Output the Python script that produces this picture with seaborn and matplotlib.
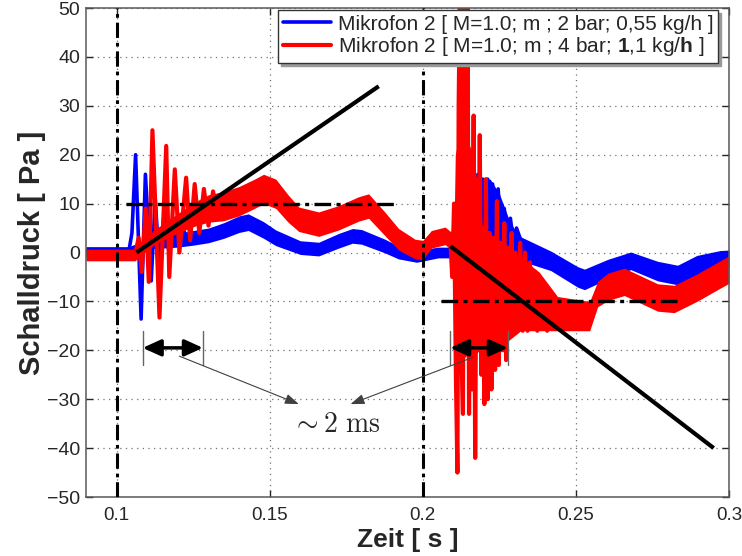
"""Schalldruck-Verlauf Mikrofon 2 bei 2 bar und 4 bar (Nachbau der Vorlage)"""
import matplotlib
matplotlib.use("Agg")
import numpy as np
import matplotlib.pyplot as plt
import seaborn as sns

# --- Messreihe 1: Mikrofon 2, 2 bar, 0,55 kg/h (blau) ---
blue_t = [0.0900, 0.1040, 0.1050, 0.1062, 0.1080, 0.1094, 0.1113, 0.1126, 0.1140, 0.1155,
          0.1170, 0.1185, 0.1200, 0.1215, 0.1235, 0.1300, 0.1350, 0.1400, 0.1430, 0.1480,
          0.1520, 0.1560, 0.1600, 0.1660, 0.1725, 0.1770, 0.1800, 0.1877, 0.1920, 0.1980,
          0.2050, 0.2090, 0.2100, 0.2105, 0.2110, 0.2116, 0.2122, 0.2128, 0.2134, 0.2140,
          0.2146, 0.2152, 0.2158, 0.2165, 0.2172, 0.2180, 0.2188, 0.2196, 0.2204, 0.2212,
          0.2220, 0.2228, 0.2236, 0.2246, 0.2256, 0.2266, 0.2276, 0.2286, 0.2296, 0.2306,
          0.2320, 0.2340, 0.2418, 0.2506, 0.2528, 0.2604, 0.2679, 0.2767, 0.2832, 0.2895,
          0.2971, 0.3000]
blue_v = [0.3, 0.3, 4.0, 20.0, -13.6, 16.0, -5.8, 11.0, -3.0, 8.0,
          0.5, 6.5, 1.5, 5.0, 2.5, 3.5, 4.5, 5.8, 6.2, 4.6,
          3.0, 2.0, 1.0, 0.7, 2.4, 3.4, 3.2, 1.3, 0.0, -0.8,
          0.0, 0.0, -3.0, 5.0, -10.0, 12.0, -15.0, 14.0, -18.0, 16.0,
          -14.0, 17.0, -25.0, 15.0, -12.0, 16.0, -8.0, 15.0, 3.0, 15.0,
          5.0, 14.0, 4.0, 13.0, 3.0, 9.0, 2.0, 7.0, 2.0, 5.0,
          2.5, 1.0, -1.7, -5.0, -5.5, -3.4, -1.7, -3.8, -4.6, -2.6,
          -1.4, -1.3]
# Rauschband (Mitte und halbe Breite)
blue_band_t = [0.090, 0.104, 0.112, 0.120, 0.125, 0.130, 0.135, 0.140, 0.143, 0.148,
               0.152, 0.156, 0.160, 0.166, 0.1725, 0.177, 0.180, 0.1877, 0.192, 0.198,
               0.205, 0.209, 0.2105, 0.215, 0.219, 0.222, 0.225, 0.228, 0.231, 0.2418,
               0.2506, 0.2528, 0.2604, 0.2679, 0.2767, 0.2832, 0.2895, 0.2971, 0.300]
blue_band_mid = [0.3, 0.3, 2.0, 2.5, 3.0, 3.5, 4.5, 5.8, 6.2, 4.6,
                 3.0, 2.0, 1.0, 0.7, 2.4, 3.4, 3.2, 1.3, 0.0, -0.8,
                 0.0, 0.0, 0.0, 2.0, 5.0, 5.0, 4.0, 2.0, 1.0, -1.7,
                 -5.0, -5.5, -3.4, -1.7, -3.8, -4.6, -2.6, -1.4, -1.3]
blue_band_half = [0.9, 0.9, 1.2, 1.4, 1.5, 1.5, 1.6, 1.7, 1.7, 1.7,
                  1.6, 1.5, 1.4, 1.4, 1.5, 1.5, 1.5, 1.4, 1.3, 1.2,
                  1.1, 1.1, 3.0, 8.0, 10.0, 10.0, 8.0, 5.0, 2.5, 2.0,
                  2.1, 2.1, 2.0, 1.8, 2.0, 2.0, 2.0, 1.8, 1.8]

# --- Messreihe 2: Mikrofon 2, 4 bar, 1,1 kg/h (rot) ---
red_t = [0.0900, 0.1060, 0.1072, 0.1082, 0.1095, 0.1105, 0.1117, 0.1140, 0.1162, 0.1172,
         0.1190, 0.1205, 0.1227, 0.1240, 0.1255, 0.1270, 0.1285, 0.1300, 0.1315, 0.1330,
         0.1345, 0.1360, 0.1375, 0.1400, 0.1450, 0.1480, 0.1520, 0.1560, 0.1595, 0.1660,
         0.1725, 0.1790, 0.1823, 0.1877, 0.1921, 0.1975, 0.2000, 0.2028, 0.2073, 0.2090,
         0.2096, 0.2102, 0.2108, 0.2113, 0.2117, 0.2121, 0.2126, 0.2131, 0.2136, 0.2141,
         0.2146, 0.2151, 0.2156, 0.2161, 0.2166, 0.2171, 0.2176, 0.2181, 0.2186, 0.2191,
         0.2196, 0.2201, 0.2206, 0.2212, 0.2218, 0.2224, 0.2230, 0.2236, 0.2242, 0.2248,
         0.2254, 0.2260, 0.2266, 0.2272, 0.2278, 0.2284, 0.2290, 0.2296, 0.2302, 0.2310,
         0.2318, 0.2326, 0.2334, 0.2342, 0.2350, 0.2358, 0.2366, 0.2374, 0.2382, 0.2390,
         0.2398, 0.2406, 0.2414, 0.2422, 0.2430, 0.2440, 0.2545, 0.2571, 0.2605, 0.2658,
         0.2767, 0.2821, 0.2895, 0.2971, 0.3000]
red_v = [-0.5, -0.5, 3.0, -4.0, 9.0, -6.0, 25.0, -13.3, 21.8, -5.0,
         17.0, 0.0, 15.3, 2.5, 14.0, 4.0, 13.0, 5.5, 12.5, 7.0,
         12.0, 8.5, 11.5, 10.5, 12.0, 13.0, 12.0, 9.0, 6.8, 5.8,
         7.1, 8.9, 9.5, 5.8, 2.7, 0.7, 0.5, 2.7, 3.4, 2.5,
         -5.0, 10.0, -25.0, -45.0, 30.0, 52.0, -20.0, -33.0, 52.0, -10.0,
         52.0, -33.0, 20.0, -28.0, 28.0, -42.0, 15.0, -20.0, 24.0, -25.0,
         5.0, -31.0, 15.0, -30.0, 4.0, -28.0, 3.0, -24.0, 10.5, -23.0,
         2.0, -20.0, 6.0, -22.0, 1.0, -16.0, 4.0, -15.0, 0.0, -15.0,
         2.0, -16.0, 0.0, -16.0, -2.0, -15.0, -4.0, -16.0, -6.0, -15.0,
         -7.0, -16.0, -8.0, -15.0, -10.0, -12.5, -13.0, -8.5, -7.0, -6.0,
         -9.2, -9.5, -7.2, -4.5, -3.5]
red_band_t = [0.090, 0.106, 0.112, 0.120, 0.126, 0.130, 0.135, 0.140, 0.145, 0.148,
              0.152, 0.156, 0.1595, 0.166, 0.1725, 0.179, 0.1823, 0.1877, 0.1921, 0.1975,
              0.200, 0.2028, 0.2073, 0.209, 0.2102, 0.2106, 0.2125, 0.2165, 0.2185, 0.2200,
              0.2250, 0.2280, 0.2320, 0.2380, 0.2440, 0.2545, 0.2571, 0.2605, 0.2658, 0.2767,
              0.2821, 0.2895, 0.2971, 0.300]
red_band_mid = [-0.5, -0.5, 3.0, 6.0, 8.0, 9.0, 9.5, 10.5, 12.0, 13.0,
                12.0, 9.0, 6.8, 5.8, 7.1, 8.9, 9.5, 5.8, 2.7, 0.7,
                0.5, 2.7, 3.4, 2.5, 2.0, 0.0, 2.0, 0.0, -5.0, -8.5,
                -9.0, -9.0, -8.5, -10.0, -12.5, -13.0, -8.5, -7.0, -6.0, -9.2,
                -9.5, -7.2, -4.5, -3.5]
red_band_half = [1.2, 1.2, 1.5, 2.0, 2.5, 2.8, 3.0, 3.0, 3.0, 3.0,
                 3.0, 2.8, 2.5, 2.5, 2.5, 2.5, 2.5, 2.4, 2.2, 2.0,
                 2.0, 1.8, 1.8, 1.8, 3.0, 20.0, 24.0, 20.0, 15.0, 11.5,
                 11.0, 9.0, 7.5, 6.0, 3.5, 3.0, 2.6, 2.8, 2.8, 2.8,
                 2.8, 2.8, 2.8, 2.8]

labels = ["Mikrofon 2 [ M=1.0; m ; 2 bar; 0,55 kg/h ]",
          r"Mikrofon 2 [ M=1.0; m ; 4 bar; $\mathbf{1}$,1 kg/$\mathbf{h}$ ]"]

# --- Hilfslinien und Markierungen ---
vline_x = [0.1, 0.2]
hline1_x, hline1_y = [0.1031, 0.1914], [10, 10]
hline2_x, hline2_y = [0.206, 0.284], [-10, -10]
diag1_x, diag1_y = [0.1065, 0.1856], [0.0, 34.0]
diag2_x, diag2_y = [0.209, 0.295], [1.3, -40.0]
span_x = [(0.1085, 0.1282), (0.2089, 0.2278)]
span_y = -19.5
span_bar = (-16.0, -23.0)
pointer_from = [(0.1205, -21.2), (0.2165, -21.4)]
pointer_to = [(0.1595, -31.0), (0.1764, -31.0)]
note_xy = (0.1716, -35.2)

x_ticks = [0.1, 0.15, 0.2, 0.25, 0.3]
x_tick_labels = ["0.1", "0.15", "0.2", "0.25", "0.3"]
y_ticks = list(range(-50, 51, 10))

sns.set_theme(style="ticks")
plt.rcParams["font.family"] = ["Liberation Sans", "DejaVu Sans"]
plt.rcParams["mathtext.fontset"] = "custom"
plt.rcParams["mathtext.rm"] = "Liberation Sans"
plt.rcParams["mathtext.bf"] = "Liberation Sans:bold"
plt.rcParams["axes.unicode_minus"] = True

fig = plt.figure(figsize=(7.42, 5.56), dpi=100)
ax = fig.add_axes([0.1159, 0.1061, 0.8666, 0.8795])
ax.set_axisbelow(True)

blue, red = "#0000ff", "#ff0000"
bm, bh = np.array(blue_band_mid), np.array(blue_band_half)
rm, rh = np.array(red_band_mid), np.array(red_band_half)

ax.fill_between(blue_band_t, bm - bh, bm + bh, color=blue, lw=0, zorder=2)
sns.lineplot(x=blue_t, y=blue_v, ax=ax, color=blue, lw=2.6, label=labels[0],
             estimator=None, sort=False, zorder=2.1)
ax.fill_between(red_band_t, rm - rh, rm + rh, color=red, lw=0, zorder=2.2)
sns.lineplot(x=red_t, y=red_v, ax=ax, color=red, lw=3.0, label=labels[1],
             estimator=None, sort=False, zorder=2.3)

# schwarze Markierungen
dashdot = (0, (5, 1.6, 1.2, 1.6))
for xv in vline_x:
    ax.axvline(xv, color="black", lw=2.2, ls=dashdot, zorder=3)
ax.plot(hline1_x, hline1_y, color="black", lw=2.4, ls=dashdot, zorder=3)
ax.plot(hline2_x, hline2_y, color="black", lw=2.4, ls=dashdot, zorder=3)
ax.plot(diag1_x, diag1_y, color="black", lw=3.0, solid_capstyle="butt", zorder=3)
ax.plot(diag2_x, diag2_y, color="black", lw=3.0, solid_capstyle="butt", zorder=3)

for x0, x1 in span_x:
    for xb in (x0, x1):
        ax.plot([xb, xb], span_bar, color="0.4", lw=1.0, zorder=3)
    ax.annotate("", xy=(x1, span_y), xytext=(x0, span_y),
                arrowprops=dict(arrowstyle="<|-|>,head_length=0.55,head_width=0.25",
                                mutation_scale=20, color="black", lw=2.5,
                                shrinkA=0, shrinkB=0), zorder=4)
for p0, p1 in zip(pointer_from, pointer_to):
    ax.annotate("", xy=p1, xytext=p0,
                arrowprops=dict(arrowstyle="-|>,head_length=0.6,head_width=0.22",
                                mutation_scale=14, color="0.25", lw=0.8,
                                shrinkA=0, shrinkB=0), zorder=4)
ax.text(note_xy[0], note_xy[1], r"$\sim 2\ \mathrm{ms}$", math_fontfamily="cm",
        fontsize=20, ha="center", va="center", zorder=4)

ax.set_xlim(0.09, 0.3)
ax.set_ylim(-50, 50)
ax.set_xticks(x_ticks)
ax.set_xticklabels(x_tick_labels)
ax.set_yticks(y_ticks)
ax.tick_params(direction="in", length=5, width=1, top=True, right=True,
               labelsize=14, colors="0.15")
ax.tick_params(axis="x", pad=7, labelsize=13.5)
ax.tick_params(axis="y", pad=4)
ax.grid(True, color="0.45", lw=0.9, ls=(0, (1, 3.5)))
for sp in ax.spines.values():
    sp.set_color("0.35")
    sp.set_linewidth(1.1)

ax.set_xlabel("Zeit [ s ]", fontsize=19, fontweight="bold", labelpad=3)
ax.set_ylabel("Schalldruck [ Pa ]", fontsize=21, fontweight="bold", labelpad=1)

leg = ax.legend(loc="upper right", bbox_to_anchor=(0.983, 0.996), borderaxespad=0,
                fontsize=15, frameon=True, fancybox=False, edgecolor="0.2",
                framealpha=1, handlelength=2.3, handletextpad=0.35,
                labelspacing=0.08, borderpad=0.22,
                shadow={"color": "0.6", "alpha": 1.0})
leg.set_zorder(10)
leg.get_frame().set_linewidth(1.0)

fig.savefig("out.png", dpi=100)
plt.close(fig)
